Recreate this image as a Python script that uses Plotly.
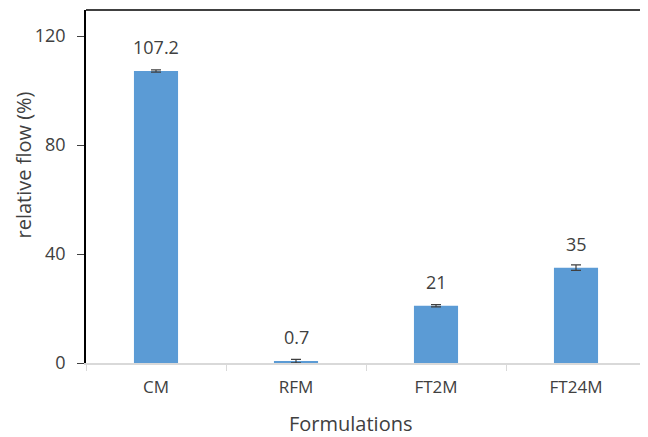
import plotly.graph_objects as go

# values
formulations = ["CM", "RFM", "FT2M", "FT24M"]
relative_flow = [107.2, 0.7, 21, 35]
flow_err = [0.4, 0.6, 0.4, 1.0]
value_labels = ["107.2", "0.7", "21", "35"]

bar_color = "#5b9bd5"
text_color = "#404040"
font_family = "Open Sans, Noto Sans, sans-serif"

fig = go.Figure()
fig.add_trace(go.Bar(
    x=formulations, y=relative_flow,
    marker=dict(color=bar_color, line=dict(width=0)),
    error_y=dict(type="data", array=flow_err, color="#404040",
                 thickness=1.2, width=5),
    width=0.315,
))

for cat, val, lab in zip(formulations, relative_flow, value_labels):
    fig.add_annotation(x=cat, y=val, text=lab, showarrow=False,
                       yshift=24, font=dict(size=18, color=text_color,
                                            family=font_family))

# axis titles placed as annotations (the original sits off-centre)
fig.add_annotation(xref="paper", yref="paper", x=-0.1115, y=0.561,
                   text="relative flow (%)", textangle=-90, showarrow=False,
                   xanchor="center", yanchor="middle",
                   font=dict(size=20, color=text_color, family=font_family))
fig.add_annotation(xref="paper", yref="paper", x=0.473, y=-0.17,
                   text="Formulations", showarrow=False,
                   xanchor="center", yanchor="middle",
                   font=dict(size=20, color=text_color, family=font_family))

# top border of the plot box
fig.add_shape(type="line", xref="paper", yref="paper", x0=0, x1=1,
              y0=1, y1=1, line=dict(color="black", width=1.5))

fig.update_layout(
    width=648, height=437,
    margin=dict(l=78, r=10, t=2, b=82),
    paper_bgcolor="white", plot_bgcolor="white",
    showlegend=False,
    font=dict(family=font_family, color=text_color),
    xaxis=dict(
        showline=True, linecolor="#d9d9d9", linewidth=1.5,
        ticks="outside", tickson="boundaries", ticklen=6,
        tickcolor="#d9d9d9", tickfont=dict(size=17, color=text_color),
        ticklabelstandoff=8,
        showgrid=False,
    ),
    yaxis=dict(
        range=[0, 129.6], tickvals=[0, 40, 80, 120],
        showline=True, linecolor="black", linewidth=1.5, mirror=True,
        ticks="outside", ticklen=7, tickcolor="#404040",
        tickfont=dict(size=18, color=text_color),
        ticklabelstandoff=8,
        showgrid=False, zeroline=False,
    ),
)

fig.write_html("out.html")
